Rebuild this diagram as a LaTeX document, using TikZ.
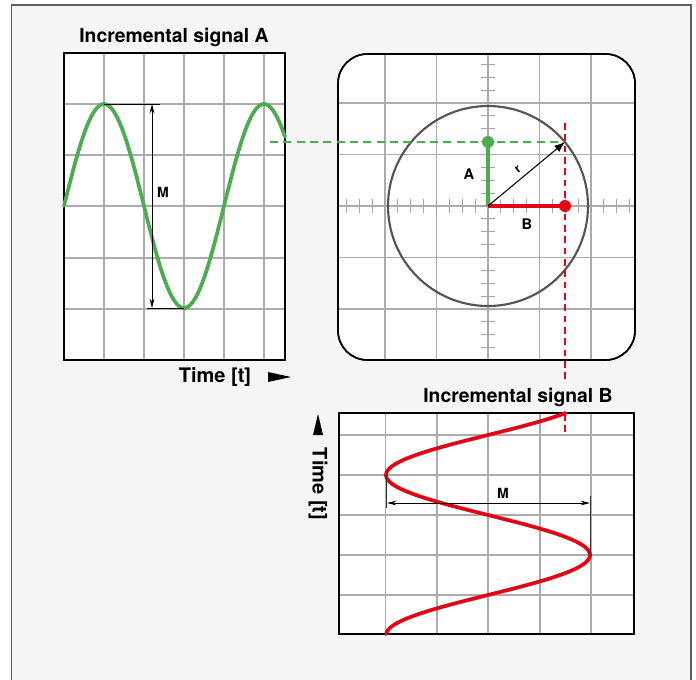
\documentclass[tikz,border=0pt]{standalone}
\usepackage{fontspec}
\setmainfont{TeX Gyre Heros}
\usepackage{xcolor}
\usepackage{tikz}
\usetikzlibrary{arrows.meta, positioning, calc}
\definecolor{sigGreen}{RGB}{76,172,82}
\definecolor{sigRed}{RGB}{226,6,20}
\definecolor{panelBg}{RGB}{245,245,245}
\definecolor{circGray}{RGB}{85,85,85}
\tikzset{
  gridline/.style={draw=gray!65, line width=0.8pt},
  panelbox/.style={draw=black, line width=1.2pt, fill=white},
  tickline/.style={draw=gray!70, line width=0.8pt},
  dimline/.style={draw=black, line width=0.7pt},
  dimarrow/.style={dimline, {Stealth[length=7pt,width=3.5pt]}-{Stealth[length=7pt,width=3.5pt]}},
  reddash/.style={draw=sigRed, line width=1pt, dash pattern=on 5pt off 3.5pt},
  titletext/.style={font=\fontsize{14.5}{17}\selectfont\bfseries, inner sep=0pt},
  labeltext/.style={font=\fontsize{11}{13}\selectfont\bfseries, inner sep=0pt},
  marker/.style={circle, inner sep=0pt, minimum size=9pt},
}
\begin{document}
\begin{tikzpicture}[x=0.75pt, y=-0.75pt]
\useasboundingbox (0,0) rectangle (696,679);
% outer frame
\draw[fill=panelBg, draw=gray!75!black, line width=1pt] (11.5,5) rectangle (691,700);

% ---- incremental signal A ----
\draw[panelbox] (64,53) rectangle (285,360);
\foreach \gx in {104,144,184,224,264}
  \draw[gridline] (\gx,53) -- (\gx,360);
\foreach \gy in {104,155,206,258,309}
  \draw[gridline] (64,\gy) -- (285,\gy);
\draw[panelbox, fill=none] (64,53) rectangle (285,360);
\draw[sigGreen, line width=2.8pt, line cap=round]
  plot[domain=64:285, samples=120] (\x, {206-102*sin(2.25*(\x-64))});
\coordinate (mTop) at (152,104);
\coordinate (mBot) at (152,308);
\draw[dimline] (104,104) -- (160,104);
\draw[dimline] (147,308) -- (184,308);
\draw[dimarrow] (mTop) -- (mBot);
\node[labeltext, font=\fontsize{10.5}{12}\selectfont\bfseries] (labMa) at (163,192) {M};
\node[titletext] (titleA) at (174,37) {Incremental signal A};
\node[titletext, font=\fontsize{15}{17}\selectfont\bfseries] (timeA) at (215,377) {Time [t]};
\fill (268,372) -- (291,377) -- (268,382) -- cycle;

% ---- phase circle ----
\draw[panelbox, rounded corners=22pt] (338,54) rectangle (635,360);
\begin{scope}
  \clip[rounded corners=22pt] (338,54) rectangle (635,360);
  \foreach \k in {-2,...,2} {
    \draw[gridline] ({488+51.5*\k},54) -- ({488+51.5*\k},360);
    \draw[gridline] (338,{206+51.5*\k}) -- (635,{206+51.5*\k});
  }
\end{scope}
\foreach \j in {-11,...,11} {
  \draw[tickline] ({488+12.875*\j},199) -- ({488+12.875*\j},213);
  \draw[tickline] (481,{206+12.875*\j}) -- (495,{206+12.875*\j});
}
\draw[panelbox, fill=none, rounded corners=22pt] (338,54) rectangle (635,360);
\coordinate (ctr) at (488,206);
\coordinate (ptP) at (565,142);
\coordinate (ptA) at (488,142);
\coordinate (ptB) at (565,206);
\coordinate (dashAstart) at (270,142);
\coordinate (dashBtop) at (565,123);
\coordinate (dashBbot) at (565,432);
\draw[circGray, line width=1.6pt] (ctr) circle[radius=75pt];
\draw[sigGreen, line width=0.9pt, dash pattern=on 6pt off 4pt] (dashAstart) -- (ptP);
\draw[reddash] (dashBtop) -- (dashBbot);
\draw[sigGreen, line width=2.3pt] (ctr) -- (ptA);
\node[marker, fill=sigGreen] (dotA) at (ptA) {};
\draw[sigRed, line width=2.3pt] (ctr) -- (ptB);
\node[marker, fill=sigRed] (dotB) at (ptB) {};
\draw[black, line width=0.8pt, -{Latex[length=8pt,width=6pt]}] (ctr) -- (ptP);
\node[labeltext, font=\fontsize{9}{10}\selectfont\bfseries, rotate=40] (labR) at (518,169) {r};
\node[labeltext] (labA) at (469,174) {A};
\node[labeltext] (labB) at (527,224) {B};

% ---- incremental signal B ----
\node[titletext, fill=panelBg, inner ysep=4pt, inner xsep=2pt] (titleB) at (518,397) {Incremental signal B};
\draw[panelbox] (339,413) rectangle (634,634);
\foreach \gx in {385.5,437,488,540,591}
  \draw[gridline] (\gx,413) -- (\gx,634);
\foreach \gy in {435,475,515,555,595}
  \draw[gridline] (339,\gy) -- (634,\gy);
\draw[panelbox, fill=none] (339,413) rectangle (634,634);
\draw[sigRed, line width=2.8pt, line cap=round]
  plot[domain=413:634, samples=120] ({488-102*cos(2.25*(\x-475))}, \x);
\draw[reddash] (565,414) -- (dashBbot);
\coordinate (mLeft) at (387,503);
\coordinate (mRight) at (590,503);
\draw[dimline, gray!40!black] (386,475) -- (386,508);
\draw[dimline, gray!40!black] (590,496) -- (590,554);
\draw[dimarrow] (mLeft) -- (mRight);
\node[labeltext, font=\fontsize{10.5}{12}\selectfont\bfseries] (labMb) at (503,493) {M};
\node[titletext, font=\fontsize{15}{17}\selectfont\bfseries, rotate=-90] (timeB) at (318,484) {Time [t]};
\fill (313,435) -- (318,414) -- (323,435) -- cycle;
\end{tikzpicture}
\end{document}
